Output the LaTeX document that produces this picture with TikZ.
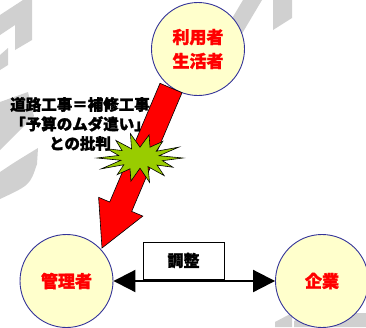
\documentclass[tikz,border=0pt]{standalone}
\usepackage{fontspec}
\newfontfamily\cjk{Noto Sans CJK JP}[BoldFeatures={FakeBold=1.6}]
\usetikzlibrary{arrows.meta}
\definecolor{cfill}{HTML}{FFFFCC}
\definecolor{cline}{HTML}{333399}
\definecolor{wm}{HTML}{D0D0D0}
\definecolor{stargreen}{HTML}{99CC00}
\begin{document}
\begin{tikzpicture}[x=1pt,y=-1pt,
  actor/.style={circle,draw=cline,fill=cfill,line width=0.9pt,minimum size=93pt,inner sep=0pt,
    text=red,font=\cjk\bfseries\fontsize{17}{24}\selectfont,align=center},
  label/.style={font=\cjk\bfseries\fontsize{15.5}{19.5}\selectfont,align=center,text=black},
  adjbox/.style={draw=black,fill=white,line width=0.8pt,minimum width=81pt,minimum height=37pt,
    inner sep=0pt,font=\cjk\bfseries\fontsize{16}{19}\selectfont},
  bothway/.style={line width=2pt,{Triangle[length=22pt,width=22pt]}-{Triangle[length=22pt,width=22pt]}},
  blockarrow/.style={fill=red,draw=black,line width=0.6pt,line join=miter},
  burst/.style={fill=stargreen,draw=black,line width=0.6pt,line join=miter},
  watermark/.style={fill=wm}]
\useasboundingbox (0,0) rectangle (366,327);
% background watermark shapes
\fill[watermark] (23,0) -- (32,0) -- (32,40) -- (15,50) -- (15,25) -- (0,35) -- (0,15) -- cycle;
\fill[watermark] (0,55) -- (8,48) -- (8,65) -- (0,70) -- cycle;
\fill[watermark] (0,102) -- (28,92) -- (34,116) -- (0,150) -- cycle;
\fill[watermark] (0,172) .. controls (15,162) .. (38,148) -- (37,164) .. controls (30,185) .. (0,199) -- cycle;
\fill[watermark] (243,0) -- (262,0) -- (240,37) -- (221,37) -- cycle;
\fill[watermark] (273,0) -- (292,0) -- (292,18) -- (273,30) -- cycle;
\fill[watermark] (275,327) -- (275,322) -- (292,313) -- (292,327) -- cycle;
\fill[watermark] (294,327) -- (294,321) -- (310,313) -- (366,313) -- (366,327) -- cycle;
% actors
\node[actor] (user) at (198,49) {利用者\\生活者};
\node[actor] (admin) at (66.5,281) {管理者};
\node[actor] (corp) at (322,281) {企業};
% adjustment
\draw[bothway] (admin.east) -- (corp.west);
\node[adjbox] (adj) at (183.5,260.5) {調整};
% red block arrow
\draw[blockarrow] (160,83.3) -- (182,92.7) -- (131.7,211.4) -- (142.8,216.1) -- (102,248)
  -- (98.6,197.3) -- (109.7,202) -- cycle;
% burst
\draw[burst] (183,158)
  \foreach \a/\f in {12.86/1, 25.71/0.85, 38.57/0.95, 51.43/0.9, 64.29/0.8, 77.14/1, 90/0.85,
    102.86/0.95, 115.71/1, 128.57/0.85, 141.43/0.9, 154.29/1, 167.14/0.85, 180/1,
    192.86/0.95, 205.71/0.85, 218.57/1, 231.43/0.9, 244.29/0.85, 257.14/1, 270/0.9,
    282.86/0.95, 295.71/1, 308.57/0.85, 321.43/0.9, 334.29/1, 347.14/0.85} {
    -- ({140+\f*(mod(round(\a/12.857),2)==0 ? 43 : 23)*cos(\a)},{158+\f*(mod(round(\a/12.857),2)==0 ? 25 : 12)*sin(\a)})
  } -- cycle;
% criticism text
\node[label] (crit) at (80,124) {道路工事＝補修工事\\「予算のムダ遣い」\\との批判};
\end{tikzpicture}
\end{document}
